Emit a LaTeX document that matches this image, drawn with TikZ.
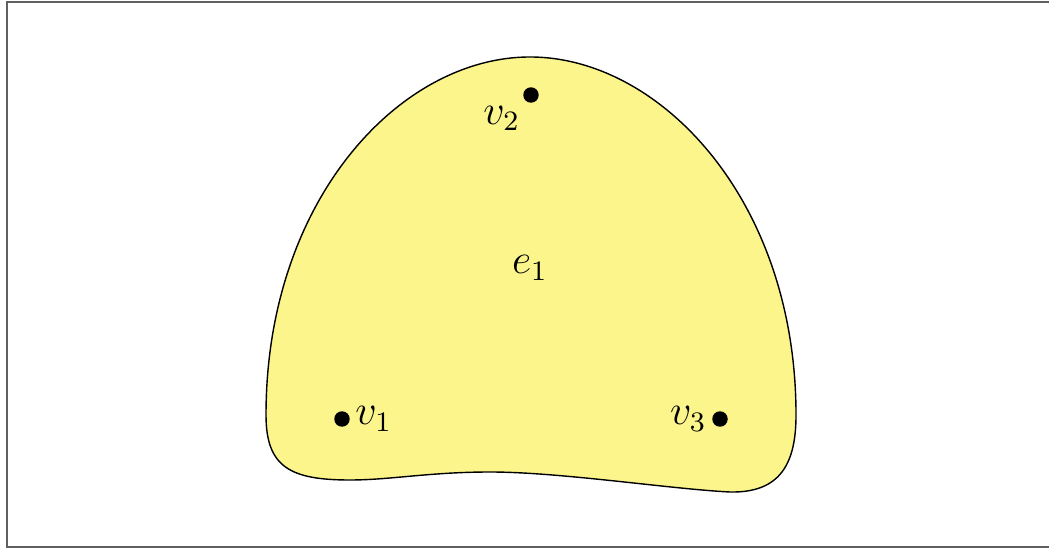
\documentclass[tikz,border=0pt]{standalone}
\usepackage{tikz}
\usetikzlibrary{positioning}
\definecolor{amarillo}{HTML}{FCF58C}
\definecolor{marco}{HTML}{606060}
\tikzset{
  every node/.style = {font=\large},
  vertice/.style    = {circle, fill=black, inner sep=0pt, minimum size=4.4pt},
  etiqueta/.style   = {inner sep=1.2pt},
  arista/.style     = {draw=black, fill=amarillo, line width=0.4pt},
  nombre/.style     = {inner sep=0pt},
}

\begin{document}
\begin{tikzpicture}
\useasboundingbox (0,0) rectangle (10.49,5.49);

% =============================================================================
% Marco
% =============================================================================
\draw[marco, line width=0.6pt] (0.07,0.02) rectangle (10.55,5.47);

% =============================================================================
% Hiperarista e_1
% =============================================================================
\path[arista] (2.66,1.34)
  .. controls (2.66,3.49) and (4.00,4.92) .. (5.30,4.92)
  .. controls (6.60,4.92) and (7.96,3.49) .. (7.96,1.34)
  .. controls (7.96,0.85) and (7.80,0.56) .. (7.30,0.57)
  .. controls (6.70,0.60) and (5.60,0.77) .. (4.90,0.77)
  .. controls (4.30,0.77) and (3.90,0.69) .. (3.50,0.69)
  .. controls (2.90,0.69) and (2.66,0.82) .. (2.66,1.34) -- cycle;

\node[nombre] (e1) at (5.30,2.81) {$e_1$};

% =============================================================================
% Vertices
% =============================================================================
\node[vertice, label={[etiqueta]right:$v_1$}] (v1) at (3.42,1.30) {};
\node[vertice, label={[etiqueta]below left:$v_2$}] (v2) at (5.31,4.54) {};
\node[vertice, label={[etiqueta]left:$v_3$}] (v3) at (7.20,1.30) {};

\end{tikzpicture}
\end{document}
